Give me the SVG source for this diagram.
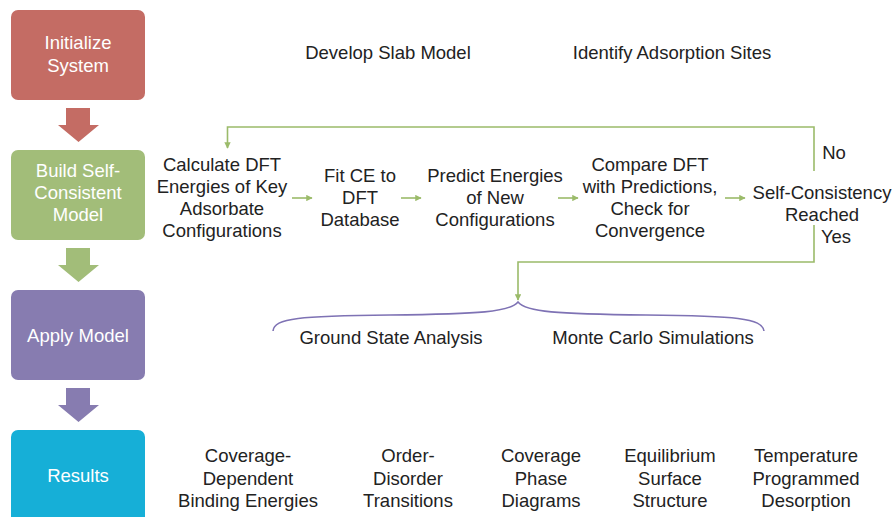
<svg xmlns="http://www.w3.org/2000/svg" width="896" height="517" viewBox="0 0 896 517">
  <style>
    .box text { font-family: "Liberation Sans", Arial, sans-serif; font-size: 18.5px; fill: #ffffff; text-anchor: middle; }
    .lbl { font-family: "Liberation Sans", Arial, sans-serif; font-size: 18.5px; fill: #222222; text-anchor: middle; }
    .res { font-family: "Liberation Sans", Arial, sans-serif; font-size: 18.5px; fill: #222222; text-anchor: middle; }
    .flow { fill: none; stroke: #9BBB6A; stroke-width: 1.6; }
    .brace { fill: none; stroke: #7E72B4; stroke-width: 1.6; }
  </style>
  <defs>
    <marker id="ga" viewBox="0 0 10 10" refX="9" refY="5" markerWidth="4" markerHeight="4" orient="auto" markerUnits="strokeWidth">
      <path d="M0,0 L10,5 L0,10 z" fill="#9BBB6A"/>
    </marker>
  </defs>
  <rect width="896" height="517" fill="#ffffff"/>

  <!-- stage boxes -->
  <g id="initialize" class="box">
    <rect x="11" y="10" width="134" height="90" rx="7" fill="#C46C64"/>
    <text x="78" y="49">Initialize</text>
    <text x="78" y="72">System</text>
  </g>
  <g id="build" class="box">
    <rect x="11" y="150" width="134" height="90" rx="7" fill="#A2BD79"/>
    <text x="78" y="177">Build Self-</text>
    <text x="78" y="199">Consistent</text>
    <text x="78" y="221">Model</text>
  </g>
  <g id="apply" class="box">
    <rect x="11" y="290" width="134" height="90" rx="7" fill="#877CB0"/>
    <text x="78" y="342">Apply Model</text>
  </g>
  <g id="results" class="box">
    <rect x="11" y="430" width="134" height="100" rx="7" fill="#16AFD7"/>
    <text x="78" y="482">Results</text>
  </g>

  <!-- block arrows between stages -->
  <g id="stage-arrows">
    <path d="M66,108 H90 V125 H99 L78.5,142 L58,125 H66 Z" fill="#C46C64"/>
    <path d="M66,248 H90 V265 H99 L78.5,282 L58,265 H66 Z" fill="#A2BD79"/>
    <path d="M66,388 H90 V405 H99 L78.5,422 L58,405 H66 Z" fill="#877CB0"/>
  </g>

  <!-- initialize steps -->
  <g id="slab"><text class="lbl" x="388" y="59">Develop Slab Model</text></g>
  <g id="sites"><text class="lbl" x="672" y="59">Identify Adsorption Sites</text></g>

  <!-- self-consistent loop steps -->
  <g id="calc">
    <text class="lbl" x="222" y="171">Calculate DFT</text>
    <text class="lbl" x="222" y="193">Energies of Key</text>
    <text class="lbl" x="222" y="215">Adsorbate</text>
    <text class="lbl" x="222" y="237">Configurations</text>
  </g>
  <g id="fit">
    <text class="lbl" x="360" y="182">Fit CE to</text>
    <text class="lbl" x="360" y="204">DFT</text>
    <text class="lbl" x="360" y="226">Database</text>
  </g>
  <g id="predict">
    <text class="lbl" x="495" y="182">Predict Energies</text>
    <text class="lbl" x="495" y="204">of New</text>
    <text class="lbl" x="495" y="226">Configurations</text>
  </g>
  <g id="compare">
    <text class="lbl" x="650" y="171">Compare DFT</text>
    <text class="lbl" x="650" y="193">with Predictions,</text>
    <text class="lbl" x="650" y="215">Check for</text>
    <text class="lbl" x="650" y="237">Convergence</text>
  </g>
  <g id="check">
    <text class="lbl" x="822" y="199">Self-Consistency</text>
    <text class="lbl" x="822" y="221">Reached</text>
    <text class="lbl" x="834" y="159">No</text>
    <text class="lbl" x="836" y="243">Yes</text>
  </g>

  <!-- apply steps -->
  <g id="ground"><text class="lbl" x="391" y="344">Ground State Analysis</text></g>
  <g id="montecarlo"><text class="lbl" x="653" y="344">Monte Carlo Simulations</text></g>

  <!-- results -->
  <g id="res-binding">
    <text class="res" x="248" y="462">Coverage-</text>
    <text class="res" x="248" y="485">Dependent</text>
    <text class="res" x="248" y="507">Binding Energies</text>
  </g>
  <g id="res-order">
    <text class="res" x="408" y="462">Order-</text>
    <text class="res" x="408" y="485">Disorder</text>
    <text class="res" x="408" y="507">Transitions</text>
  </g>
  <g id="res-phase">
    <text class="res" x="541" y="462">Coverage</text>
    <text class="res" x="541" y="485">Phase</text>
    <text class="res" x="541" y="507">Diagrams</text>
  </g>
  <g id="res-surface">
    <text class="res" x="670" y="462">Equilibrium</text>
    <text class="res" x="670" y="485">Surface</text>
    <text class="res" x="670" y="507">Structure</text>
  </g>
  <g id="res-tpd">
    <text class="res" x="806" y="462">Temperature</text>
    <text class="res" x="806" y="485">Programmed</text>
    <text class="res" x="806" y="507">Desorption</text>
  </g>

  <!-- connectors -->
  <g id="connectors">
    <line class="flow" x1="292" y1="198" x2="312" y2="198" marker-end="url(#ga)"/>
    <line class="flow" x1="401" y1="198" x2="421" y2="198" marker-end="url(#ga)"/>
    <line class="flow" x1="558" y1="198" x2="578" y2="198" marker-end="url(#ga)"/>
    <line class="flow" x1="725" y1="198" x2="745" y2="198" marker-end="url(#ga)"/>
    <path class="flow" d="M814,171 V127 H227.5 V148" marker-end="url(#ga)"/>
    <path class="flow" d="M814,225 V262 H518 V300" marker-end="url(#ga)"/>
    <path class="brace" d="M273,331 C274,318 300,316 390,315 C480,314 510,312 518,302 C526,312 556,314 646,315 C736,316 762,318 764,331"/>
  </g>
</svg>
